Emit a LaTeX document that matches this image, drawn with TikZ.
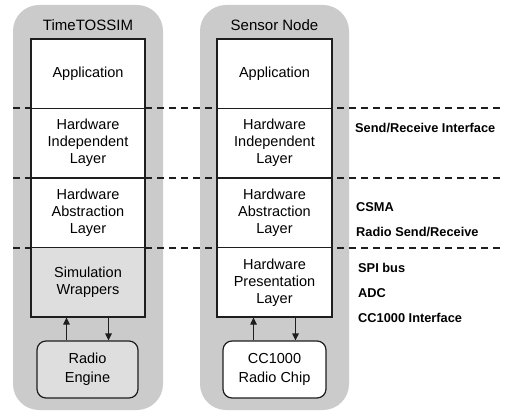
\documentclass[tikz,border=0pt]{standalone}
\usepackage{fontspec}
\setmainfont{Liberation Sans}
\usetikzlibrary{arrows.meta}
\definecolor{shell}{HTML}{CBCBCB}
\definecolor{simfill}{HTML}{DEDEDE}
\definecolor{edge}{HTML}{1E1E1E}
\tikzset{
  shellbox/.style={fill=shell, draw=none, rounded corners=26pt},
  layerbox/.style={draw=edge, line width=1.2pt, fill=white, minimum width=114pt,
    minimum height=69.5pt, inner sep=0pt, align=center,
    font=\fontsize{14.5}{17}\selectfont},
  hwbox/.style={draw=edge, line width=1.2pt, fill=white, rounded corners=9pt,
    minimum width=102pt, minimum height=57pt, inner sep=0pt, align=center,
    font=\fontsize{14.5}{19}\selectfont},
  titletext/.style={font=\fontsize{15}{18}\selectfont, inner sep=0pt},
  sidelabel/.style={anchor=west, inner sep=0pt, font=\bfseries\fontsize{12.8}{15}\selectfont},
  divider/.style={line width=2pt, draw=edge, dash pattern=on 7pt off 5pt},
  arr/.style={line width=1.2pt, draw=edge, -{Triangle[length=7pt,width=6.5pt]}}
}
\begin{document}
\begin{tikzpicture}[x=1pt,y=-1pt]
\useasboundingbox (0,0) rectangle (505,414);

% grey shells of the two stacks
\fill[shellbox] (13,5) rectangle (163,410);
\fill[shellbox] (200,5) rectangle (349,410);
\node[titletext] (t1) at (88,25) {TimeTOSSIM};
\node[titletext] (t2) at (274.5,25) {Sensor Node};

% layer boundaries
\coordinate (d1a) at (13,108.5); \coordinate (d1b) at (505,108.5);
\coordinate (d2a) at (13,178);   \coordinate (d2b) at (505,178);
\coordinate (d3a) at (13,247.5); \coordinate (d3b) at (505,247.5);
\draw[divider] (d1a) -- (d1b);
\draw[divider] (d2a) -- (d2b);
\draw[divider] (d3a) -- (d3b);

% TimeTOSSIM stack
\node[layerbox] (la) at (88,73.75) {Application};
\node[layerbox] (lb) at (88,143.25) {Hardware\\Independent\\Layer};
\node[layerbox] (lc) at (88,212.75) {Hardware\\Abstraction\\Layer};
\node[layerbox, fill=simfill] (ld) at (88,282.25) {Simulation\\Wrappers};
\node[hwbox, fill=simfill, minimum width=101pt] (le) at (87.5,369.5) {Radio\\Engine};

% sensor node stack
\node[layerbox, minimum width=115pt] (ra) at (274.5,73.75) {Application};
\node[layerbox, minimum width=115pt] (rb) at (274.5,143.25) {Hardware\\Independent\\Layer};
\node[layerbox, minimum width=115pt] (rc) at (274.5,212.75) {Hardware\\Abstraction\\Layer};
\node[layerbox, minimum width=115pt] (rd) at (274.5,282.25) {Hardware\\Presentation\\Layer};
\node[hwbox, minimum width=103pt] (re) at (274.5,369.5) {CC1000\\Radio Chip};

% links to the radio
\draw[arr] ([xshift=-21pt]le.north) -- ([xshift=-21pt]le.north |- ld.south);
\draw[arr] ([xshift=21pt]le.north |- ld.south) -- ([xshift=21pt]le.north);
\draw[arr] ([xshift=-21pt]re.north) -- ([xshift=-21pt]re.north |- rd.south);
\draw[arr] ([xshift=21pt]re.north |- rd.south) -- ([xshift=21pt]re.north);

% side notes
\node[sidelabel] (s1) at (355,128) {Send/Receive Interface};
\node[sidelabel] (s2) at (356,207) {CSMA};
\node[sidelabel] (s3) at (356,232) {Radio Send/Receive};
\node[sidelabel] (s4) at (358,268) {SPI bus};
\node[sidelabel] (s5) at (358,293) {ADC};
\node[sidelabel] (s6) at (358,318) {CC1000 Interface};
\end{tikzpicture}
\end{document}
